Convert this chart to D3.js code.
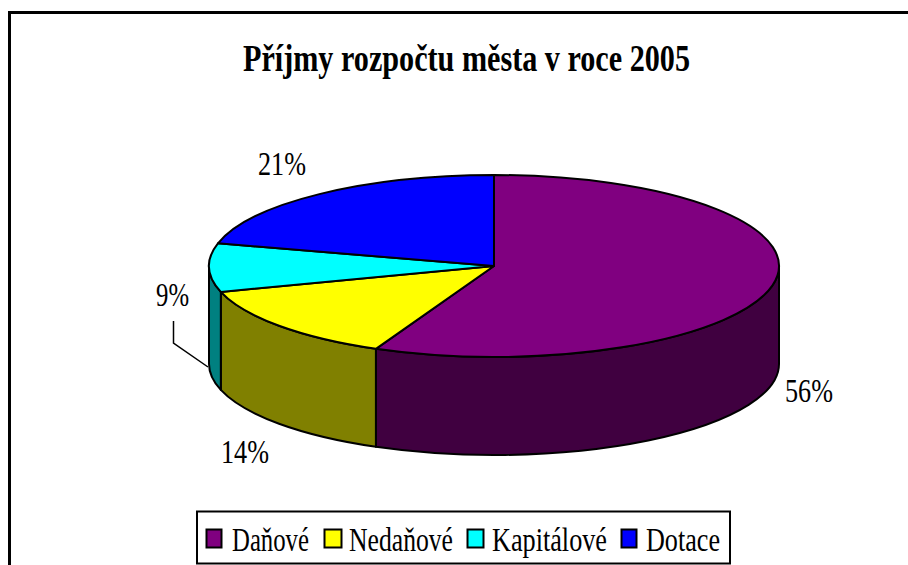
<!DOCTYPE html>
<html><head><meta charset="utf-8">
<script src="https://cdn.jsdelivr.net/npm/d3@7/dist/d3.min.js"></script>
<style>html,body{margin:0;padding:0;background:#fff}svg{display:block}text{font-family:"Liberation Serif",serif;fill:#000}</style>
</head><body><svg id="c" width="908" height="565"></svg>
<script>
const titleText = "Příjmy rozpočtu města v roce 2005";
const categories = ["Daňové", "Nedaňové", "Kapitálové", "Dotace"];
const values = [56.8, 13.6, 8.6, 21.0];
const labels = ["56%", "14%", "9%", "21%"];
const topColors = ["#800080", "#ffff00", "#00ffff", "#0000ff"];
const sideColors = ["#400040", "#808000", "#008080", "#000080"];

const svg = d3.select("#c");
const W = 908, H = 565;
svg.append("rect").attr("width", W).attr("height", H).attr("fill", "#fff");

// chart frame (cropped on the right and the bottom)
svg.append("path").attr("d", "M9.5,565V12.5H908").attr("fill", "none").attr("stroke", "#000").attr("stroke-width", 3);

function squeezed(t, left, base, size, width) {
  return svg.append("text").attr("x", left).attr("y", base).attr("font-size", size)
    .attr("textLength", width).attr("lengthAdjust", "spacingAndGlyphs").text(t);
}
squeezed(titleText, 243, 71, 38, 447).attr("font-weight", "bold");

const x = d3.scaleLinear().domain([-1, 1]).range([209, 779]);
const y = d3.scaleLinear().domain([-1, 1]).range([175, 357]);
const depth = 98;
const rx = (x(1) - x(-1)) / 2, ry = (y(1) - y(-1)) / 2;
const px = a => x(Math.sin(a));
const py = a => y(-Math.cos(a));

const arcs = d3.pie().sort(null).value(d => d)(values);
const g = svg.append("g").attr("stroke", "#000").attr("stroke-width", 2).attr("stroke-linejoin", "round");

// sides
arcs.forEach((d, i) => {
  const a0 = Math.max(d.startAngle, Math.PI / 2), a1 = Math.min(d.endAngle, 3 * Math.PI / 2);
  if (a1 <= a0) return;
  const large = a1 - a0 > Math.PI ? 1 : 0;
  g.append("path").attr("fill", sideColors[i]).attr("d",
    `M${px(a0)},${py(a0)}A${rx},${ry} 0 ${large} 1 ${px(a1)},${py(a1)}` +
    `L${px(a1)},${py(a1) + depth}A${rx},${ry} 0 ${large} 0 ${px(a0)},${py(a0) + depth}Z`);
});
// top
arcs.forEach((d, i) => {
  const large = d.endAngle - d.startAngle > Math.PI ? 1 : 0;
  g.append("path").attr("fill", topColors[i]).attr("d",
    `M${x(0)},${y(0)}L${px(d.startAngle)},${py(d.startAngle)}A${rx},${ry} 0 ${large} 1 ${px(d.endAngle)},${py(d.endAngle)}Z`);
});

// data labels
const labelPos = [[785, 402, 48], [221, 463, 48], [156, 306, 33], [258, 175, 48]];
labels.forEach((t, i) => squeezed(t, labelPos[i][0], labelPos[i][1], 33, labelPos[i][2]));
svg.append("polyline").attr("points", "173.5,321 173.5,343 208,367").attr("fill", "none").attr("stroke", "#000").attr("stroke-width", 1.5);

// legend
svg.append("rect").attr("x", 197).attr("y", 511.5).attr("width", 533).attr("height", 52)
  .attr("fill", "#fff").attr("stroke", "#000").attr("stroke-width", 2);
const swatchX = [206.5, 324.5, 467.5, 621.5];
const swatchW = [15, 17, 16, 15];
const textX = [232, 349, 492, 646];
const textW = [77, 104, 115, 74];
categories.forEach((c, i) => {
  svg.append("rect").attr("x", swatchX[i]).attr("y", 529.5).attr("width", swatchW[i]).attr("height", 18)
    .attr("fill", topColors[i]).attr("stroke", "#000").attr("stroke-width", 2);
  squeezed(c, textX[i], 551, 33, textW[i]);
});
</script></body></html>
